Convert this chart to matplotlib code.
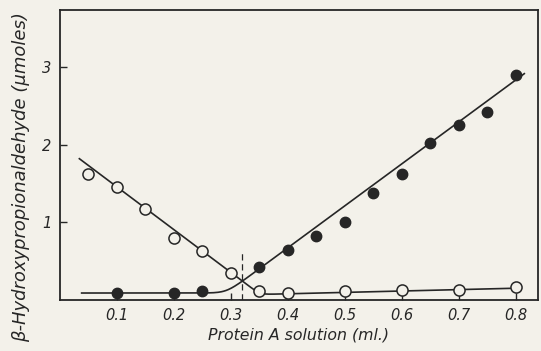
import numpy as np
import matplotlib
matplotlib.use("Agg")
import matplotlib.pyplot as plt

# Open circles: reaction product with increasing protein A
vol_open = [0.05, 0.10, 0.15, 0.20, 0.25, 0.30, 0.35, 0.40, 0.50, 0.60, 0.70, 0.80]
prod_open = [1.63, 1.46, 1.18, 0.80, 0.63, 0.35, 0.12, 0.09, 0.11, 0.13, 0.13, 0.17]

# Filled circles
vol_filled = [0.10, 0.20, 0.25, 0.35, 0.40, 0.45, 0.50, 0.55, 0.60, 0.65, 0.70, 0.75, 0.80]
prod_filled = [0.09, 0.09, 0.12, 0.42, 0.64, 0.83, 1.01, 1.38, 1.63, 2.03, 2.26, 2.43, 2.90]

# Fitted curves (straight segments joined smoothly)
desc_intercept, desc_slope = 2.01, -5.52      # falling branch of open series
open_base, open_base_slope = 0.08, 0.18        # low plateau of open series (ref. at 0.4 ml)
rise_intercept, rise_slope = -1.49, 5.41      # rising branch of filled series
filled_base = 0.09                             # low plateau of filled series
equivalence_vol = 0.32

xticks = [0.1, 0.2, 0.3, 0.4, 0.5, 0.6, 0.7, 0.8]
xtick_labels = ["0.1", "0.2", "0.3", "0.4", "0.5", "0.6", "0.7", "0.8"]
yticks = [1, 2, 3]

ink = "#262626"
paper = "#f3f1ea"
font = "DejaVu Sans"

fig = plt.figure(figsize=(5.41, 3.51), dpi=100, facecolor=paper)
ax = fig.add_axes([60 / 541, 51 / 351, 478 / 541, 290 / 351])
ax.set_facecolor(paper)


def soft_max(a, b, k):
    return k * np.logaddexp(a / k, b / k)


xo = np.linspace(0.034, 0.80, 400)
falling = desc_intercept + desc_slope * xo
plateau = open_base + open_base_slope * (xo - 0.4)
ax.plot(xo, soft_max(falling, plateau, 0.03), color=ink, lw=1.2, zorder=2)

xf = np.linspace(0.038, 0.815, 400)
rising = rise_intercept + rise_slope * xf
ax.plot(xf, soft_max(rising, np.full_like(xf, filled_base), 0.05),
        color=ink, lw=1.2, zorder=2)

ax.plot([equivalence_vol, equivalence_vol], [0, 0.62], color=ink, lw=0.9,
        ls=(0, (5, 3)), zorder=1)

ax.plot(vol_open, prod_open, ls="none", marker="o", ms=8, mfc=paper,
        mec=ink, mew=1.1, zorder=3)
ax.plot(vol_filled, prod_filled, ls="none", marker="o", ms=7.5, mfc=ink,
        mec=ink, mew=1.0, zorder=3)

ax.set_xlim(0, 0.839)
ax.set_ylim(0, 3.74)
ax.set_xticks(xticks)
ax.set_xticklabels(xtick_labels)
ax.set_yticks(yticks)
ax.tick_params(direction="in", length=5, width=1.0, color=ink,
               labelsize=10.5, labelcolor=ink, pad=6)
for lab in ax.get_xticklabels() + ax.get_yticklabels():
    lab.set_fontstyle("italic")
    lab.set_family(font)
for s in ax.spines.values():
    s.set_color(ink)
    s.set_linewidth(1.3)

ax.set_xlabel("Protein A solution (ml.)", fontsize=11.3, style="italic",
              color=ink, family=font, labelpad=3)
fig.text(21 / 541, 1 - 177 / 351, "β-Hydroxypropionaldehyde (µmoles)",
         rotation=90, ha="center", va="center", fontsize=13, style="italic",
         color=ink, family=font)

fig.savefig("out.png", dpi=100, facecolor=paper)
